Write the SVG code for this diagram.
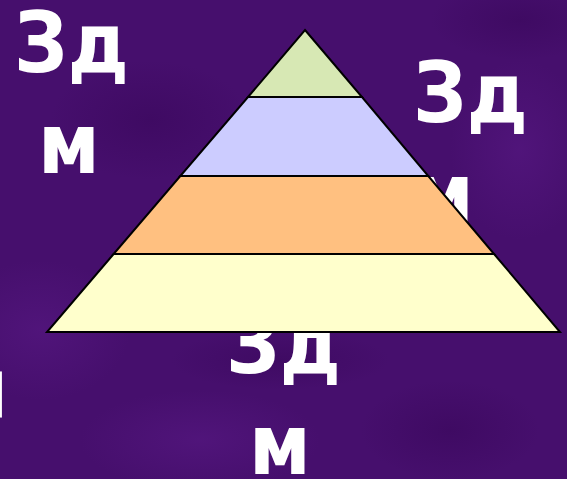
<svg xmlns="http://www.w3.org/2000/svg" width="567" height="479" viewBox="0 0 567 479">
  <defs>
    <radialGradient id="blobL" cx="0.5" cy="0.5" r="0.5">
      <stop offset="0" stop-color="#571883" stop-opacity="0.6"/>
      <stop offset="1" stop-color="#571883" stop-opacity="0"/>
    </radialGradient>
    <radialGradient id="blobD" cx="0.5" cy="0.5" r="0.5">
      <stop offset="0" stop-color="#3a075c" stop-opacity="0.6"/>
      <stop offset="1" stop-color="#3a075c" stop-opacity="0"/>
    </radialGradient>
    <style>
      .t { font-family: "DejaVu Sans Condensed", "DejaVu Sans", sans-serif; font-stretch: condensed; font-weight: bold; font-size: 84px; fill: #ffffff; }
      .band { stroke: #000000; stroke-width: 2; stroke-linejoin: miter; }
    </style>
  </defs>
  <g id="background">
    <rect x="0" y="0" width="567" height="479" fill="#460f6d"/>
    <ellipse cx="40" cy="330" rx="90" ry="70" fill="url(#blobL)"/>
    <ellipse cx="520" cy="150" rx="70" ry="90" fill="url(#blobL)"/>
    <ellipse cx="200" cy="440" rx="120" ry="50" fill="url(#blobL)"/>
    <ellipse cx="450" cy="430" rx="90" ry="50" fill="url(#blobD)"/>
    <ellipse cx="150" cy="120" rx="100" ry="60" fill="url(#blobD)"/>
    <ellipse cx="520" cy="20" rx="90" ry="40" fill="url(#blobD)"/>
    <ellipse cx="280" cy="360" rx="110" ry="30" fill="url(#blobD)"/>
  </g>
  <g id="labels">
    <text class="t" x="14" y="72">Зд</text>
    <text class="t" x="38" y="173">м</text>
    <text class="t" x="413" y="122">Зд</text>
    <text class="t" x="412" y="223">м</text>
    <text class="t" x="226" y="373">Зд</text>
    <text class="t" x="249" y="474">м</text>
    <text class="t" x="-44" y="417">п</text>
  </g>
  <g id="pyramid">
    <g id="level4"><polygon class="band" fill="#ffffcc" points="113.6,254 494.1,254 560,332 47,332"/></g>
    <g id="level3"><polygon class="band" fill="#ffc080" points="180.3,176 428.3,176 494.1,254 113.6,254"/></g>
    <g id="level2"><polygon class="band" fill="#ccccff" points="248,97 362,97 428.3,176 180.3,176"/></g>
    <g id="level1"><polygon class="band" fill="#d7e8b4" points="305,30 362,97 248,97"/></g>
  </g>
</svg>
